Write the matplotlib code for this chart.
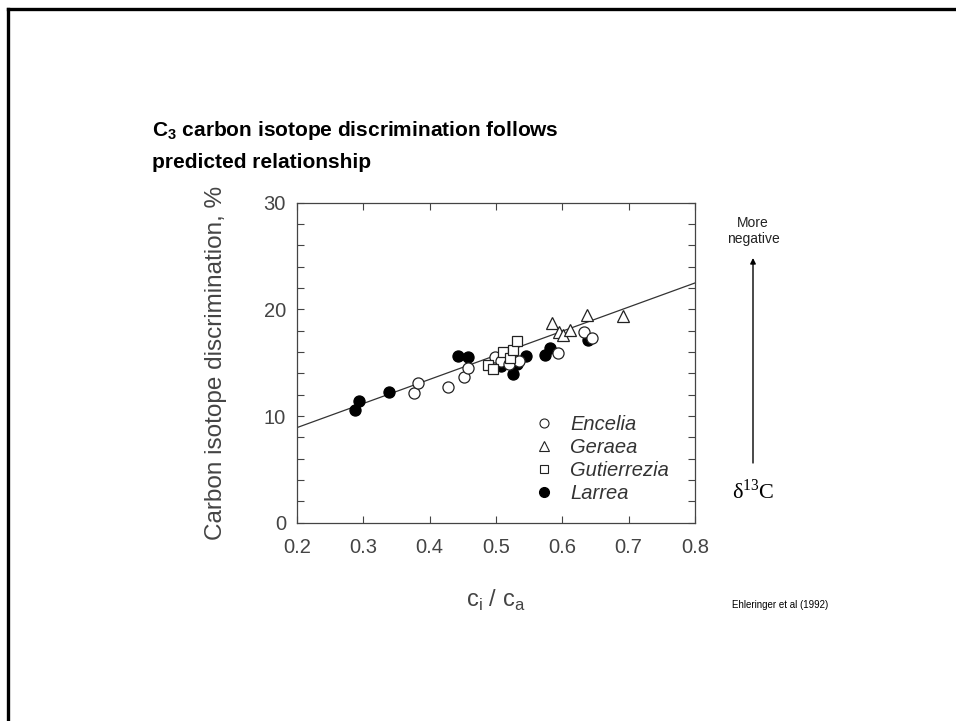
import numpy as np
import matplotlib.pyplot as plt
from matplotlib.lines import Line2D

plt.rcParams['font.family'] = ['Liberation Sans', 'DejaVu Sans']

# ci/ca and carbon isotope discrimination (per mil) for each genus
encelia_x = [0.376, 0.3825, 0.427, 0.4515, 0.4575, 0.498, 0.507, 0.520, 0.535, 0.593, 0.633, 0.645]
encelia_y = [12.2, 13.1, 12.7, 13.7, 14.55, 15.55, 15.15, 14.85, 15.15, 15.9, 17.9, 17.3]

geraea_x = [0.584, 0.595, 0.601, 0.611, 0.6365, 0.692]
geraea_y = [18.7, 17.9, 17.6, 18.1, 19.5, 19.4]

gutierrezia_x = [0.488, 0.495, 0.511, 0.521, 0.526, 0.531]
gutierrezia_y = [14.8, 14.4, 16.0, 15.4, 16.2, 17.0]

larrea_x = [0.287, 0.2935, 0.338, 0.443, 0.458, 0.508, 0.526, 0.532, 0.545, 0.574, 0.582, 0.638]
larrea_y = [10.6, 11.4, 12.25, 15.65, 15.55, 14.7, 13.9, 14.9, 15.65, 15.7, 16.4, 17.1]

# Farquhar model: delta = a + (b - a) * ci/ca
a_frac, b_frac = 4.4, 27.0

fig = plt.figure(figsize=(9.56, 7.21), dpi=100)

# slide frame (top and left edges)
fig.add_artist(Line2D([8 / 956, 8 / 956], [0, 1 - 9 / 721], color='black', lw=2.4,
                      transform=fig.transFigure))
fig.add_artist(Line2D([8 / 956, 1], [1 - 9 / 721, 1 - 9 / 721], color='black', lw=2.4,
                      transform=fig.transFigure))

ax = fig.add_axes([0.3107, 0.275, 0.4163, 0.4438])

xl = np.linspace(0.2, 0.8, 50)
ax.plot(xl, a_frac + (b_frac - a_frac) * xl, color='#333333', lw=0.9, zorder=1)

ms = 8
ax.plot(larrea_x, larrea_y, 'o', ms=ms, mfc='black', mec='black', mew=0.9, zorder=2)
ax.plot(encelia_x, encelia_y, 'o', ms=ms, mfc='white', mec='#222222', mew=0.9, zorder=3)
ax.plot(gutierrezia_x, gutierrezia_y, 's', ms=7.5, mfc='white', mec='#222222', mew=0.9, zorder=4)
ax.plot(geraea_x, geraea_y, '^', ms=8.5, mfc='white', mec='#222222', mew=0.9, zorder=5)

ax.set_xlim(0.2, 0.8)
ax.set_ylim(0, 30)
ax.set_xticks(np.arange(0.2, 0.81, 0.1))
ax.set_xticklabels(['0.2', '0.3', '0.4', '0.5', '0.6', '0.7', '0.8'])
ax.set_yticks(np.arange(0, 31, 2))
ax.set_yticklabels([str(v) if v % 10 == 0 else '' for v in range(0, 31, 2)])
ax.tick_params(direction='in', length=5, width=0.8, color='#444444',
               top=True, right=True, labelsize=14.5, labelcolor='#444444')
ax.tick_params(axis='x', pad=11)
ax.tick_params(axis='y', pad=8)
for sp in ax.spines.values():
    sp.set_color('#444444')
    sp.set_linewidth(0.9)

ax.set_ylabel('Carbon isotope discrimination, %', fontsize=17.5, color='#444444', labelpad=26)
ax.set_xlabel('c$_\\mathregular{i}$ / c$_\\mathregular{a}$', fontsize=17, color='#444444', labelpad=22)

handles = [
    Line2D([], [], ls='', marker='o', ms=6.5, mfc='white', mec='#222222', mew=0.8),
    Line2D([], [], ls='', marker='^', ms=7, mfc='white', mec='#222222', mew=0.8),
    Line2D([], [], ls='', marker='s', ms=6, mfc='white', mec='#222222', mew=0.8),
    Line2D([], [], ls='', marker='o', ms=7, mfc='black', mec='black'),
]
leg = ax.legend(handles, ['Encelia', 'Geraea', 'Gutierrezia', 'Larrea'],
                loc='lower left', bbox_to_anchor=(0.565, 0.031), frameon=False,
                handlelength=1.2, handletextpad=0.7, labelspacing=0.2, borderpad=0,
                prop={'style': 'italic', 'size': 14.5})
for t in leg.get_texts():
    t.set_color('#333333')

fig.text(152 / 956, 1 - 119 / 721,
         'C$_\\mathregular{3}$ carbon isotope discrimination follows\npredicted relationship',
         fontsize=15, fontweight='bold', ha='left', va='top', linespacing=1.75)

# direction arrow for delta 13C
fig.text(753 / 956, 1 - 231 / 721, 'More\nnegative', fontsize=10, ha='center', va='center',
         color='#222222', linespacing=1.25)
fig.add_artist(plt.Annotation('', xy=(753 / 956, 1 - 258 / 721), xytext=(753 / 956, 1 - 463 / 721),
                              xycoords='figure fraction', textcoords='figure fraction',
                              arrowprops=dict(arrowstyle='-|>', color='black', lw=1,
                                              mutation_scale=8, shrinkA=0, shrinkB=0)))
fig.text(753 / 956, 1 - 491 / 721, 'δ$^{\\mathregular{13}}$C', fontsize=16, ha='center',
         va='center', family=['Liberation Serif', 'DejaVu Serif'])

fig.text(780 / 956, 1 - 605 / 721, 'Ehleringer et al (1992)', fontsize=7, ha='center',
         va='center')

fig.savefig('out.png', dpi=100)
